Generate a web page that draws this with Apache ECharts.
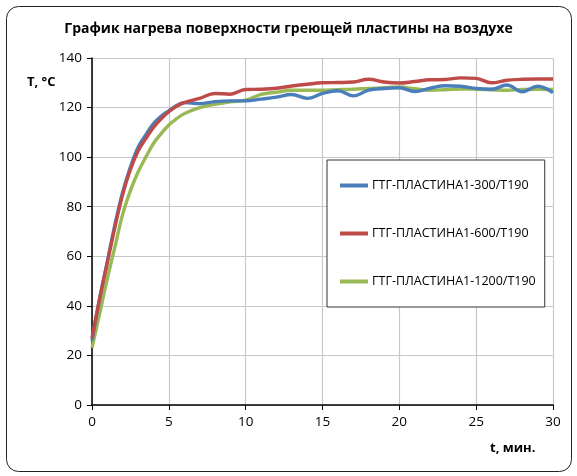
<!DOCTYPE html>
<html>
<head>
<meta charset="utf-8">
<script src="https://cdn.jsdelivr.net/npm/echarts@6/dist/echarts.min.js"></script>
<style>
html,body{margin:0;padding:0;background:#fff;}
#chart{width:577px;height:476px;}
</style>
</head>
<body>
<div id="chart"></div>
<script>
const titleText = 'График нагрева поверхности греющей пластины на воздухе';
const xAxisName = 't, мин.';
const yAxisName = 'T, °C';
const seriesNames = ['ГТГ-ПЛАСТИНА1-300/Т190', 'ГТГ-ПЛАСТИНА1-600/Т190', 'ГТГ-ПЛАСТИНА1-1200/Т190'];
const times = [0, 0.5, 1, 1.5, 2, 2.5, 3, 3.5, 4, 4.5, 5, 5.5, 6, 7, 8, 9, 10, 11, 12, 13, 14, 15, 16, 17, 18, 19, 20, 21, 22, 23, 24, 25, 26, 27, 28, 29, 30];
const blue300 = [26, 43, 58, 73, 86, 96, 104, 109, 113.5, 116.5, 118.7, 120.8, 122, 121.6, 122.4, 122.7, 122.7, 123.4, 124.2, 125.3, 123.7, 125.7, 126.8, 124.7, 127, 127.7, 128, 126.5, 127.8, 128.8, 128.6, 127.7, 127.4, 129.1, 126.4, 128.6, 126];
const red600 = [27, 43, 57.5, 72, 85, 95, 102.5, 107.5, 112, 115.5, 118.3, 120.5, 122, 123.7, 125.7, 125.4, 127.3, 127.4, 127.8, 128.7, 129.4, 130, 130.1, 130.3, 131.4, 130.3, 129.9, 130.5, 131.2, 131.3, 132, 131.8, 130, 131, 131.4, 131.5, 131.5];
const green1200 = [23, 37, 51, 64, 77, 86.5, 94, 100, 105.5, 109.5, 113, 115.5, 117.5, 120, 121.3, 122.3, 123, 125.3, 126.2, 127, 127, 127, 127.2, 127.4, 127.7, 128, 128.3, 127.6, 127, 127.2, 127.5, 127.4, 127.2, 127, 127.3, 127.4, 127.3];
const colors = ['#4a7ebb', '#be4b48', '#98b954'];
const xTicks = {min: 0, max: 30, interval: 5};
const yTicks = {min: 0, max: 140, interval: 20};

function pairs(vals){ return times.map((t,i)=>[t, vals[i]]); }
const seriesVals = [blue300, red600, green1200];

const chart = echarts.init(document.getElementById('chart'), null, {renderer:'canvas'});
const fontFam = 'Open Sans, Noto Sans, sans-serif';
chart.setOption({
  animation: false,
  backgroundColor: '#fff',
  title: {
    text: titleText, left: 'center', top: 17,
    textStyle: {fontFamily: fontFam, fontSize: 14, fontWeight: 'bold', color: '#000'}
  },
  graphic: [
    {type:'rect', shape:{x:6.5, y:6.5, width:565, height:465, r:12}, style:{fill:'none', stroke:'#222', lineWidth:1}, z:-1},
    {type:'text', left: 27, top: 76, style:{text: yAxisName, font: 'bold 13px ' + fontFam, fill:'#000'}},
    {type:'text', left: 490, top: 442, style:{text: xAxisName, font: 'bold 13px ' + fontFam, fill:'#000'}}
  ],
  grid: {left: 92, right: 24, top: 58, bottom: 71, containLabel: false},
  legend: {
    data: seriesNames,
    orient: 'vertical',
    left: 327, top: 160,
    backgroundColor: '#fff',
    borderColor: '#333', borderWidth: 1,
    padding: [19, 9, 19, 13],
    itemGap: 35,
    itemWidth: 28, itemHeight: 4,
    icon: 'rect',
    textStyle: {fontFamily: fontFam, fontSize: 12.5, color: '#000', padding:[0,0,0,-1]},
    z: 10
  },
  xAxis: {
    type: 'value', min: xTicks.min, max: xTicks.max, interval: xTicks.interval,
    axisLine: {onZero: false, lineStyle: {color: '#000', width: 1.5}},
    axisTick: {show: true, length: 5, lineStyle: {color: '#000'}},
    axisLabel: {fontFamily: fontFam, fontSize: 13.5, color: '#000', margin: 10},
    splitLine: {show: true, lineStyle: {color: '#c8c8c8', width: 1.2}}
  },
  yAxis: {
    type: 'value', min: yTicks.min, max: yTicks.max, interval: yTicks.interval,
    axisLine: {show: true, lineStyle: {color: '#000', width: 1.5}},
    axisTick: {show: true, length: 5, lineStyle: {color: '#000'}},
    axisLabel: {fontFamily: fontFam, fontSize: 13.5, color: '#000', margin: 10},
    splitLine: {show: true, lineStyle: {color: '#c8c8c8', width: 1.2}}
  },
  series: seriesNames.map((n,i)=>({
    name: n, type: 'line', data: pairs(seriesVals[i]),
    smooth: 0.4, showSymbol: false, symbol: 'none',
    lineStyle: {color: colors[i], width: 3.4},
    itemStyle: {color: colors[i]},
    z: i === 0 ? 2 : (i === 1 ? 3 : 1)
  }))
});
</script>
</body>
</html>
